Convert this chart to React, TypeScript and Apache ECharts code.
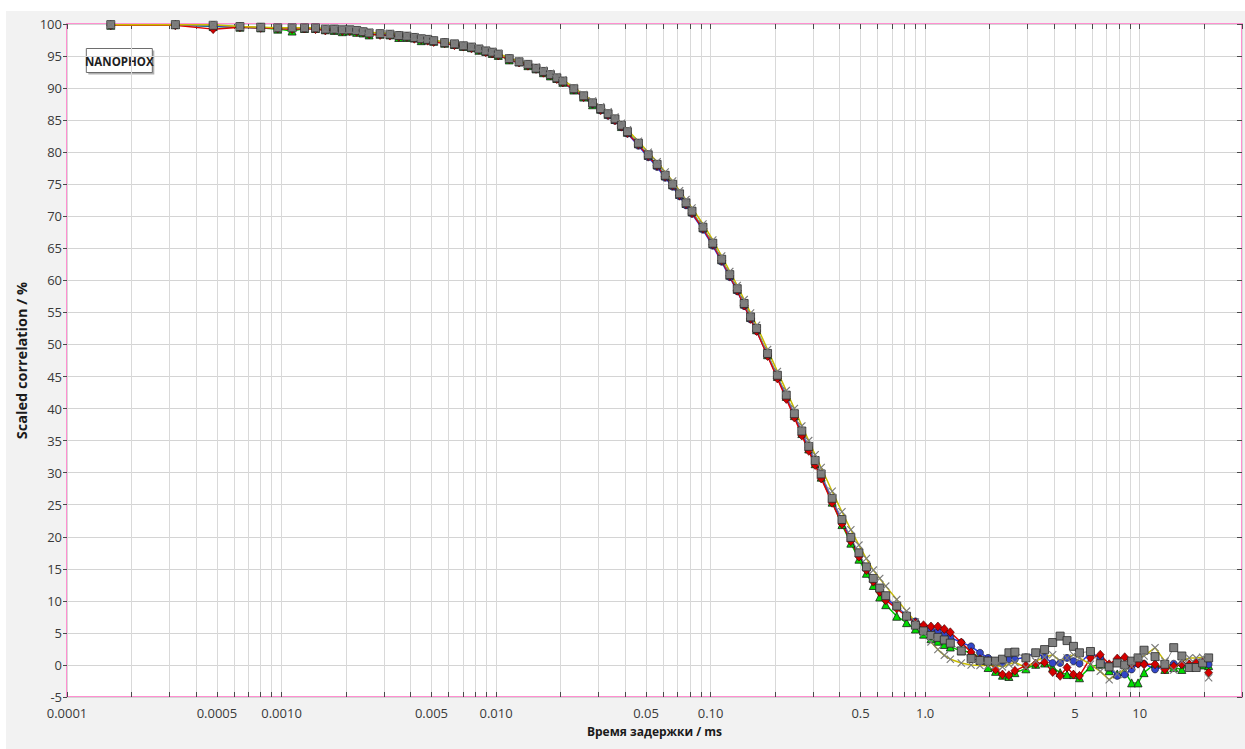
import React, { useEffect, useRef } from 'react';
import * as echarts from 'echarts';

// Lag times (ms) of the correlator channels
const lagTimes = [
  0.00016, 0.00032, 0.00048, 0.00064, 0.0008, 0.00096, 0.00112, 0.00128, 0.00144, 0.0016, 0.00176, 0.00192, 0.00208, 0.00224, 0.0024, 0.00256,
  0.00288, 0.0032, 0.00352, 0.00384, 0.00416, 0.00448, 0.0048, 0.00512,
  0.00576, 0.0064, 0.00704, 0.00768, 0.00832, 0.00896, 0.0096, 0.01024,
  0.01152, 0.0128, 0.01408, 0.01536, 0.01664, 0.01792, 0.0192, 0.02048,
  0.02304, 0.0256, 0.02816, 0.03072, 0.03328, 0.03584, 0.0384, 0.04096,
  0.04608, 0.0512, 0.05632, 0.06144, 0.06656, 0.07168, 0.0768, 0.08192,
  0.09216, 0.1024, 0.11264, 0.12288, 0.13312, 0.14336, 0.1536, 0.16384,
  0.18432, 0.2048, 0.22528, 0.24576, 0.26624, 0.28672, 0.3072, 0.32768,
  0.36864, 0.4096, 0.45056, 0.49152, 0.53248, 0.57344, 0.6144, 0.65536,
  0.73728, 0.8192, 0.90112, 0.98304, 1.06496, 1.14688, 1.2288, 1.31072,
  1.47456, 1.6384, 1.80224, 1.96608, 2.12992, 2.29376, 2.4576, 2.62144,
  2.94912, 3.2768, 3.60448, 3.93216, 4.25984, 4.58752, 4.9152, 5.24288,
  5.89824, 6.5536, 7.20896, 7.86432, 8.51968, 9.17504, 9.8304, 10.48576,
  11.79648, 13.1072, 14.41792, 15.72864, 17.03936, 18.35008, 19.6608, 20.97152,
];

const greenValues = [
  99.8, 99.9, 99.6, 99.5, 99.4, 99.2, 98.9, 99.3, 99.3, 99.1, 99.0, 98.8, 98.9, 98.7, 98.6, 98.3,
  98.4, 98.3, 97.9, 97.9, 97.8, 97.4, 97.5, 97.3,
  97.0, 96.8, 96.5, 96.3, 95.9, 95.7, 95.4, 95.1,
  94.4, 94.1, 93.5, 93.0, 92.4, 91.9, 91.5, 90.9,
  89.7, 88.6, 87.4, 86.7, 85.9, 85.1, 84.0, 83.1,
  81.3, 79.5, 78.0, 76.3, 74.9, 73.4, 72.0, 70.7,
  68.2, 65.7, 63.2, 60.8, 58.6, 56.3, 54.2, 52.3,
  48.4, 45.0, 41.9, 38.9, 36.1, 33.7, 31.4, 29.3,
  25.4, 21.9, 19.0, 16.5, 14.3, 12.4, 10.6, 9.4,
  7.6, 6.6, 5.6, 4.8, 4.1, 3.7, 3.2, 2.8,
  2.2, 2.0, 1.1, -0.4, -1.0, -1.6, -1.8, -1.2,
  -0.6, 0.1, 0.3, -0.4, -1.2, -1.5, -1.5, -2.0,
  -0.3, 0.1, -0.9, -1.4, -1.0, -2.8, -2.8, -1.2,
  0.2, -0.7, -0.4, -0.7, 0.1, 0.2, 0.0, -0.1,
];

const blueValues = [
  99.9, 99.8, 99.7, 99.5, 99.4, 99.3, 99.3, 99.3, 99.3, 99.1, 99.1, 99.0, 99.0, 98.9, 98.7, 98.5,
  98.4, 98.3, 98.1, 98.0, 97.8, 97.6, 97.5, 97.3,
  97.0, 96.8, 96.5, 96.3, 96.0, 95.7, 95.5, 95.2,
  94.5, 94.0, 93.6, 93.0, 92.5, 92.0, 91.5, 90.9,
  89.7, 88.6, 87.5, 86.5, 85.7, 84.9, 83.9, 82.9,
  81.0, 79.2, 77.7, 76.0, 74.6, 73.1, 71.7, 70.4,
  67.9, 65.4, 62.9, 60.5, 58.3, 56.0, 53.9, 52.1,
  48.3, 44.9, 41.9, 39.0, 36.3, 33.9, 31.7, 29.6,
  25.8, 22.5, 19.6, 17.1, 15.0, 13.2, 11.8, 10.5,
  9.0, 7.8, 6.8, 6.0, 5.6, 5.2, 4.8, 4.3,
  3.5, 2.9, 1.9, 1.1, 0.6, 0.3, 0.9, 0.9,
  1.2, 1.9, 1.2, 0.3, 0.3, 1.1, 0.6, 0.2,
  1.9, 1.1, -0.4, -1.7, -1.5, -0.7, 0.2, 0.2,
  -0.7, -0.2, 0.2, 0.1, -0.2, 0.3, 0.3, 0.1,
];

const redValues = [
  99.8, 99.8, 99.2, 99.5, 99.4, 99.3, 99.2, 99.3, 99.2, 99.0, 99.1, 98.9, 98.9, 98.8, 98.7, 98.4,
  98.3, 98.2, 98.0, 98.0, 97.7, 97.6, 97.4, 97.2,
  97.0, 96.7, 96.5, 96.2, 96.0, 95.6, 95.4, 95.1,
  94.5, 94.0, 93.5, 93.0, 92.4, 92.0, 91.4, 90.9,
  89.8, 88.6, 87.6, 86.6, 85.8, 85.0, 84.0, 83.0,
  81.2, 79.4, 77.9, 76.2, 74.8, 73.3, 71.9, 70.5,
  68.1, 65.6, 63.1, 60.7, 58.4, 56.1, 54.0, 52.1,
  48.2, 44.7, 41.5, 38.6, 35.8, 33.4, 31.2, 29.1,
  25.3, 22.0, 19.3, 16.9, 14.8, 13.0, 11.4, 10.1,
  8.8, 7.6, 6.6, 6.2, 6.0, 6.0, 5.6, 5.1,
  3.5, 2.0, 0.9, 0.6, -0.7, -1.5, -1.6, -0.9,
  -0.1, 0.2, 0.4, -1.1, -1.7, -0.4, -1.5, -1.7,
  1.1, 1.6, 0.1, 1.0, 1.2, 0.1, 0.2, 0.1,
  0.1, -0.7, -0.2, 0.1, 0.1, 0.3, 0.5, -1.2,
];

const grayValues = [
  99.9, 99.9, 99.8, 99.6, 99.5, 99.4, 99.4, 99.4, 99.4, 99.2, 99.2, 99.1, 99.1, 99.0, 98.8, 98.6,
  98.5, 98.4, 98.2, 98.1, 97.9, 97.7, 97.6, 97.4,
  97.1, 96.9, 96.6, 96.4, 96.1, 95.8, 95.6, 95.3,
  94.6, 94.1, 93.7, 93.1, 92.6, 92.1, 91.6, 91.1,
  89.9, 88.8, 87.7, 86.8, 86.0, 85.2, 84.2, 83.2,
  81.4, 79.6, 78.1, 76.4, 75.0, 73.5, 72.1, 70.8,
  68.3, 65.8, 63.3, 60.9, 58.7, 56.4, 54.3, 52.5,
  48.6, 45.2, 42.1, 39.2, 36.5, 34.1, 31.9, 29.8,
  26.0, 22.7, 19.9, 17.5, 15.3, 13.5, 12.0, 10.8,
  9.2, 7.6, 6.2, 5.3, 4.6, 4.3, 3.9, 3.4,
  2.2, 1.0, 0.7, 0.6, 0.6, 0.9, 1.9, 2.0,
  1.1, 1.9, 2.4, 3.5, 4.5, 3.8, 2.9, 1.9,
  2.1, 0.2, -0.3, 0.3, 0.0, 0.6, 1.1, 2.3,
  1.3, 0.1, 2.7, 1.4, -0.4, -0.4, 0.3, 1.1,
];

const yellowValues = [
  99.9, 99.9, 99.9, 99.6, 99.5, 99.4, 99.4, 99.4, 99.4, 99.3, 99.2, 99.1, 99.1, 99.0, 98.9, 98.7,
  98.6, 98.5, 98.3, 98.2, 98.0, 97.8, 97.7, 97.5,
  97.2, 97.0, 96.7, 96.5, 96.2, 95.9, 95.7, 95.4,
  94.7, 94.2, 93.8, 93.3, 92.8, 92.3, 91.8, 91.3,
  90.1, 89.0, 88.0, 87.1, 86.3, 85.5, 84.5, 83.5,
  81.7, 80.0, 78.5, 76.9, 75.5, 74.0, 72.6, 71.3,
  68.8, 66.3, 63.8, 61.4, 59.2, 57.0, 54.9, 53.0,
  49.2, 45.8, 42.8, 40.0, 37.3, 35.0, 32.8, 30.8,
  27.1, 23.9, 21.1, 18.7, 16.6, 14.8, 13.5, 12.3,
  10.2, 8.4, 6.7, 5.0, 3.6, 2.4, 1.5, 0.9,
  0.3, 0.0, -0.1, -0.1, -0.1, -0.3, 0.1, 0.4,
  -0.4, 0.6, 1.2, 1.6, 0.6, 1.1, 1.6, 1.1,
  0.1, -1.0, -2.3, -1.4, -0.7, -0.2, 1.1, 1.4,
  2.7, 0.6, -0.8, 0.6, 1.1, 1.1, 1.2, -2.0,
];

const xTickLabels = ['0.0001', '0.0005', '0.0010', '0.005', '0.010', '0.05', '0.10', '0.5', '1.0', '5', '10'];
const xTickLabelValues = [0.0001, 0.0005, 0.001, 0.005, 0.01, 0.05, 0.1, 0.5, 1, 5, 10];
const xMinMs = 0.0001;
const xMaxMs = 30;
const yMin = -5;
const yMax = 100;
const yInterval = 5;

const FONT = "'Open Sans', 'Noto Sans', sans-serif";
const CROSS = 'path://M1,0 L5,4 L9,0 L10,1 L6,5 L10,9 L9,10 L5,6 L1,10 L0,9 L4,5 L0,1 Z';

export default function App() {
  const ref = useRef<HTMLDivElement>(null);

  useEffect(() => {
    const chart = echarts.init(ref.current!, null, { renderer: 'svg' });
    const lx = (t: number) => Math.log10(t);
    const xMin = lx(xMinMs);
    const xMax = lx(xMaxMs);

    const gridVals: number[] = [];
    for (let d = -4; d <= 1; d++) {
      for (let m = 1; m <= 9; m++) {
        const v = lx(m * Math.pow(10, d));
        if (v <= xMax + 1e-9) gridVals.push(v);
      }
    }
    const labelVals = xTickLabelValues.map(lx);

    const mk = (vals: number[]) => lagTimes.map((t, i) => [lx(t), vals[i]]);

    const common = {
      type: 'line',
      xAxisIndex: 0,
      yAxisIndex: 0,
      silent: true,
      showAllSymbol: true,
      emphasis: { disabled: true },
    };

    const tickStyle = { color: '#4a4a4a', width: 1 };

    const option: any = {
      animation: false,
      backgroundColor: 'transparent',
      textStyle: { fontFamily: FONT },
      grid: {
        left: 67,
        right: 3,
        top: 24,
        bottom: 52,
        show: true,
        backgroundColor: '#ffffff',
        borderColor: '#ff8fd0',
        borderWidth: 2,
      },
      xAxis: [
        {
          type: 'value',
          min: xMin,
          max: xMax,
          position: 'bottom',
          name: 'Время задержки / ms',
          nameLocation: 'middle',
          nameGap: 28,
          nameTextStyle: { fontFamily: FONT, fontWeight: 'bold', fontSize: 12, color: '#1a1a1a' },
          axisLine: { show: false, onZero: false },
          axisTick: { show: true, inside: true, length: 5, customValues: gridVals, lineStyle: tickStyle },
          axisLabel: {
            customValues: labelVals,
            margin: 9,
            fontSize: 13,
            lineHeight: 14,
            color: '#3a3a3a',
            fontFamily: FONT,
            formatter: (v: number) => {
              for (let i = 0; i < labelVals.length; i++) {
                if (Math.abs(labelVals[i] - v) < 1e-6) return xTickLabels[i];
              }
              return '';
            },
          },
          splitLine: { show: true, lineStyle: { color: '#d9d9d9', width: 1 } },
        },
        {
          type: 'value',
          min: xMin,
          max: xMax,
          position: 'top',
          axisLine: { show: false, onZero: false },
          axisTick: { show: true, inside: true, length: 5, customValues: gridVals, lineStyle: tickStyle },
          axisLabel: { show: false },
          splitLine: { show: false },
        },
      ],
      yAxis: [
        {
          type: 'value',
          min: yMin,
          max: yMax,
          interval: yInterval,
          position: 'left',
          name: 'Scaled correlation / %',
          nameLocation: 'middle',
          nameGap: 31,
          nameRotate: 90,
          nameTextStyle: { fontFamily: FONT, fontWeight: 'bold', fontSize: 14.5, color: '#1a1a1a' },
          axisLine: { show: false, onZero: false },
          axisTick: { show: true, inside: false, length: 4, lineStyle: tickStyle },
          axisLabel: { margin: 5, fontSize: 13, lineHeight: 14, color: '#3a3a3a', fontFamily: FONT },
          splitLine: { show: true, lineStyle: { color: '#d4d4d4', width: 1 } },
        },
        {
          type: 'value',
          min: yMin,
          max: yMax,
          interval: yInterval,
          position: 'right',
          axisLine: { show: false, onZero: false },
          axisTick: { show: true, inside: true, length: 5, lineStyle: tickStyle },
          axisLabel: { show: false },
          splitLine: { show: false },
        },
      ],
      series: [
        {
          ...common,
          name: 'green',
          data: mk(greenValues),
          symbol: 'triangle',
          symbolSize: 8,
          lineStyle: { color: '#00c800', width: 1.5 },
          itemStyle: { color: '#00dd00', borderColor: '#1a1a1a', borderWidth: 0.8 },
        },
        {
          ...common,
          name: 'blue',
          data: mk(blueValues),
          symbol: 'circle',
          symbolSize: 7,
          lineStyle: { color: '#2436e6', width: 1.5 },
          itemStyle: { color: '#3346c8', borderColor: '#1a1a1a', borderWidth: 0.6 },
        },
        {
          ...common,
          name: 'red',
          data: mk(redValues),
          symbol: 'diamond',
          symbolSize: [8, 9],
          lineStyle: { color: '#dd0000', width: 1.5 },
          itemStyle: { color: '#d40000', borderColor: '#3a0000', borderWidth: 0.6 },
        },
        {
          ...common,
          name: 'gray',
          data: mk(grayValues),
          symbol: 'rect',
          symbolSize: 8,
          lineStyle: { color: '#8a8a8a', width: 1 },
          itemStyle: { color: '#808080', borderColor: '#2a2a2a', borderWidth: 0.8 },
        },
        {
          ...common,
          name: 'yellow',
          data: mk(yellowValues),
          symbol: CROSS,
          symbolSize: 8,
          lineStyle: { color: '#c8bc00', width: 1.5 },
          itemStyle: { color: '#7a7a7a', borderWidth: 0 },
        },
      ],
      graphic: [
        {
          type: 'group',
          left: 85,
          top: 48,
          children: [
            { type: 'rect', shape: { x: 2, y: 2, width: 66, height: 24 }, style: { fill: '#b0b0b0' } },
            { type: 'rect', shape: { x: 0, y: 0, width: 66, height: 24 }, style: { fill: '#ffffff', stroke: '#6e6e6e', lineWidth: 1 } },
            {
              type: 'text',
              x: 33,
              y: 12.5,
              style: {
                text: 'NANOPHOX',
                fill: '#1e1e1e',
                font: `bold 11.5px ${FONT}`,
                align: 'center',
                verticalAlign: 'middle',
              },
            },
          ],
        },
      ],
    };

    chart.setOption(option);
    return () => chart.dispose();
  }, []);

  return (
    <div style={{ position: 'fixed', left: 0, top: 0, width: 1245, height: 749, background: '#ffffff' }}>
      <div style={{ position: 'absolute', left: 6, top: 11, right: 0, bottom: 0, background: '#f2f2f2' }} />
      <div ref={ref} style={{ position: 'absolute', left: 0, top: 0, width: 1245, height: 749 }} />
    </div>
  );
}
